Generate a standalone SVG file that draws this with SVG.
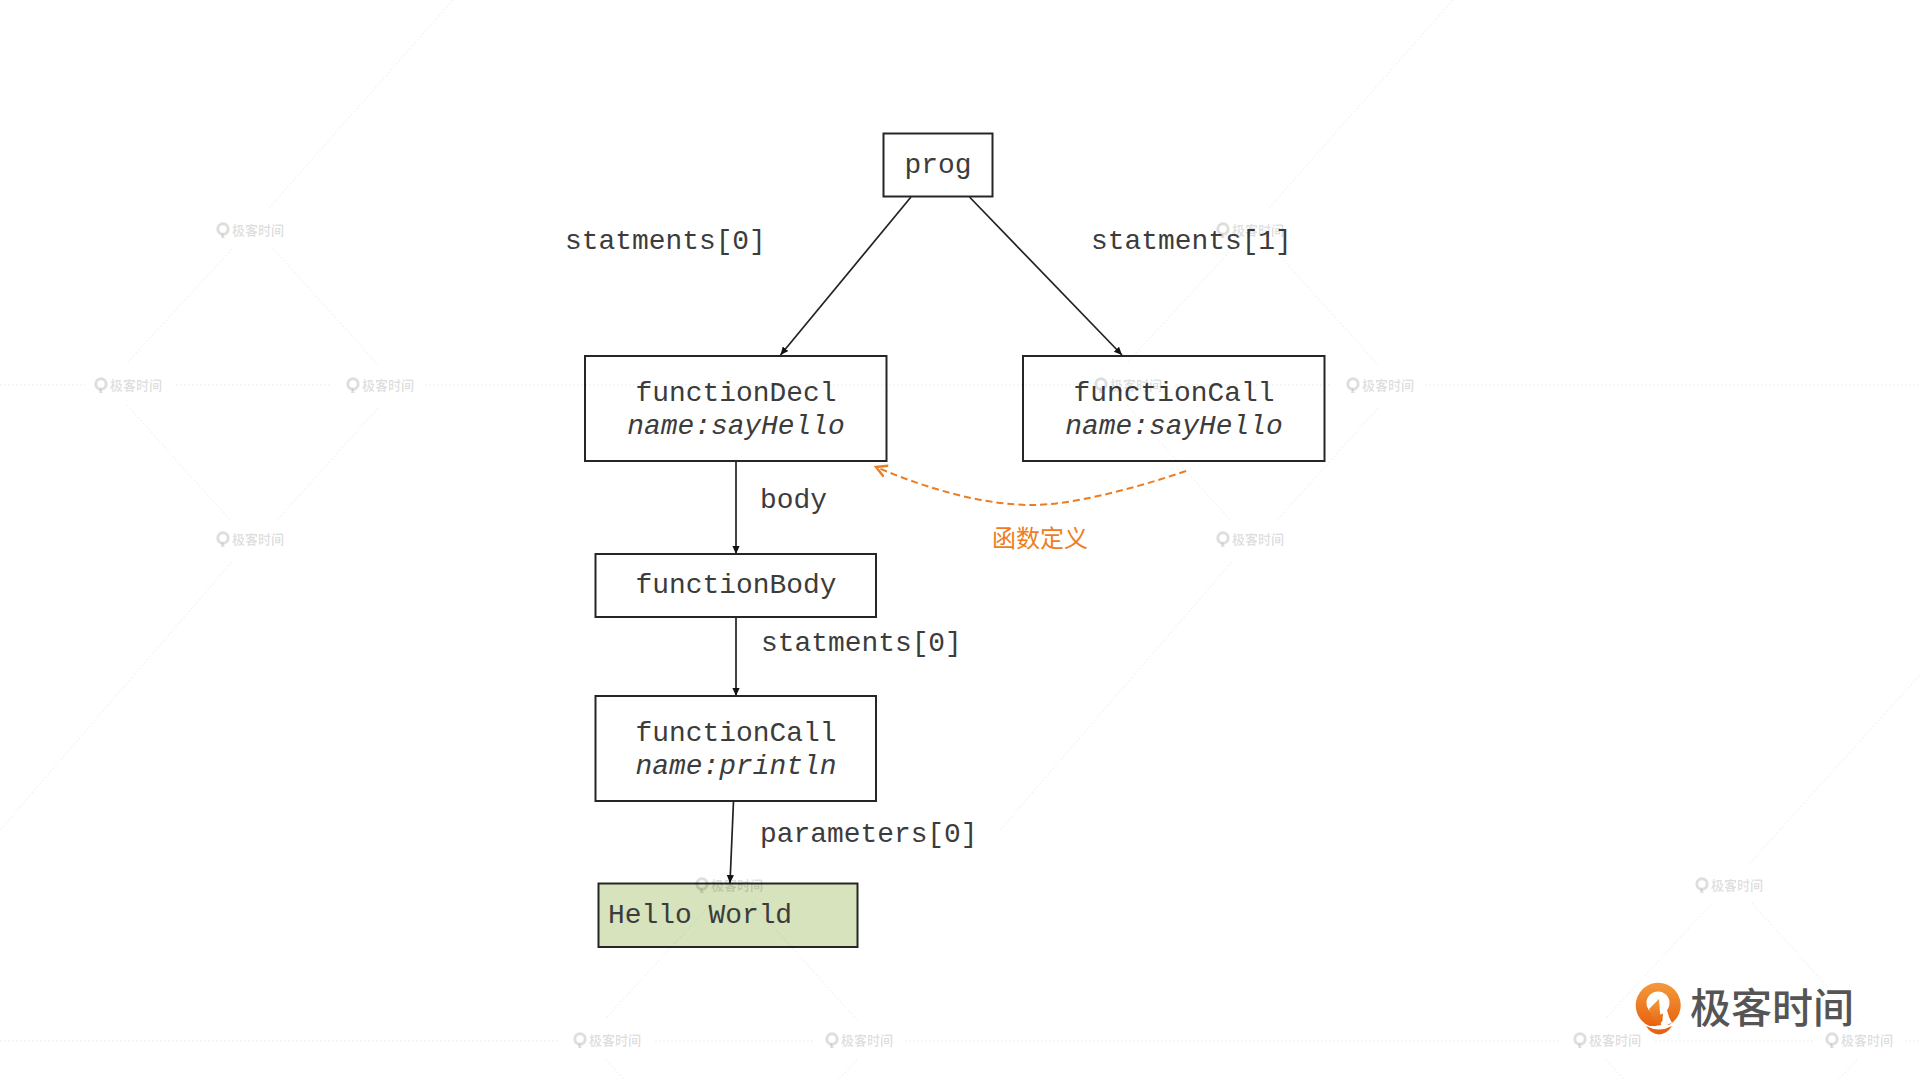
<svg xmlns="http://www.w3.org/2000/svg" xmlns:xlink="http://www.w3.org/1999/xlink" width="1920" height="1080" viewBox="0 0 1920 1080">
<style>
.box{fill:#fff;stroke:#262626;stroke-width:2}
.t{font-family:"Liberation Mono",monospace;font-size:27.9px;fill:#3c3c3c;}
.c{text-anchor:middle}
.i{font-style:italic}
.con{fill:none;stroke:#222;stroke-width:1.7}
.wl{fill:none;stroke:#000;stroke-opacity:.07;stroke-width:1;stroke-dasharray:2 2}
.wt{font-family:"Noto Sans CJK SC",sans-serif;font-size:13px;font-weight:700;fill:#000;fill-opacity:.13}
</style>
<defs>
<marker id="ah" markerUnits="userSpaceOnUse" markerWidth="10" markerHeight="10" refX="8" refY="4" orient="auto"><path d="M0 0.4L8 4L0 7.6z" fill="#111"/></marker>
<marker id="oh" markerUnits="userSpaceOnUse" markerWidth="14" markerHeight="14" refX="11" refY="6.500" orient="auto"><path d="M0 0.5L11 6.500L0 12.500" fill="none" stroke="#ed7d22" stroke-width="2.400"/></marker>
<linearGradient id="lg" x1="0" y1="0" x2="0" y2="1"><stop offset="0" stop-color="#f39a3c"/><stop offset="1" stop-color="#e8620f"/></linearGradient>
<g id="wm">
<circle cx="-27" cy="-1" r="5.200" fill="none" stroke="#000" stroke-opacity=".13" stroke-width="3"/>
<path d="M-28 3L-25 8L-29 8z" fill="#000" fill-opacity=".13"/>
<text class="wt" x="-18" y="5">极客时间</text>
</g>
</defs>
<rect width="1920" height="1080" fill="#fff"/>
<g id="connectors">
<path class="con" d="M911 197L780.500 355" marker-end="url(#ah)"/>
<path class="con" d="M969.500 197L1122 355" marker-end="url(#ah)"/>
<path class="con" d="M736 461V554" marker-end="url(#ah)"/>
<path class="con" d="M736 617V696" marker-end="url(#ah)"/>
<path class="con" d="M733.500 801L730 883" marker-end="url(#ah)"/>
<path d="M1186 471C1130 490 1070 505 1032 505C985 505 930 490 876 467" fill="none" stroke="#ed7d22" stroke-width="2" stroke-dasharray="7 4" marker-end="url(#oh)"/>
</g>
<g id="prog"><rect class="box" x="883.500" y="133.500" width="109" height="63"/><text class="t c" x="938" y="173">prog</text></g>
<g id="functionDecl"><rect class="box" x="585" y="356" width="301.500" height="105"/><text class="t c" x="736" y="401">functionDecl</text><text class="t c i" x="736" y="434">name:sayHello</text></g>
<g id="functionCall1"><rect class="box" x="1023" y="356" width="301.500" height="105"/><text class="t c" x="1174" y="401">functionCall</text><text class="t c i" x="1174" y="434">name:sayHello</text></g>
<g id="functionBody"><rect class="box" x="595.500" y="554" width="280.500" height="63"/><text class="t c" x="736" y="593">functionBody</text></g>
<g id="functionCall2"><rect class="box" x="595.500" y="696" width="280.500" height="105"/><text class="t c" x="736" y="741">functionCall</text><text class="t c i" x="736" y="774">name:println</text></g>
<g id="helloWorld"><rect class="box" x="598.500" y="883.500" width="259" height="63.500" style="fill:#d7e3bc"/><text class="t" x="608" y="923">Hello World</text></g>
<g id="labels">
<text class="t" x="565" y="249">statments[0]</text>
<text class="t" x="1091" y="249">statments[1]</text>
<text class="t" x="760" y="508">body</text>
<text class="t" x="761" y="651">statments[0]</text>
<text class="t" x="760" y="842">parameters[0]</text>
<text x="992" y="547" font-family="'Noto Sans CJK SC',sans-serif" font-size="24" fill="#ed7d22">函数定义</text>
</g>
<g id="logo">
<path d="M1649.500 1026A22.500 22.500 0 1 1 1669 1025L1663 1021L1655 1026z" fill="url(#lg)"/>
<circle cx="1658" cy="1003" r="11.500" fill="#fff"/>
<path d="M1659 999L1661 1025L1655 1026L1649 1009z" fill="url(#lg)"/>
<path d="M1664 1000L1669 1017L1672 1023L1662 1026z" fill="#fff"/>
<path d="M1646 1026Q1659 1033 1672 1026Q1667 1034 1659 1034.500Q1651 1034 1646 1026z" fill="#e8620f"/>
<text x="1690" y="1023" font-family="'Noto Sans CJK SC',sans-serif" font-size="41" font-weight="500" fill="#555">极客时间</text>
</g>
<g id="watermark">
<path class="wl" d="M0 385H85M176 385H332M425 385H1080M1176 385H1332M1425 385H1920M0 1041H560M655 1041H815M905 1041H1560M1655 1041H1815M1905 1041H1920"/>
<path class="wl" d="M453 0L269 208M232 249L127 363M273 248L378 365M127 405L230 520M378 408L277 520M232 562L0 830M1453 0L1269 208M1232 249L1127 363M1273 248L1378 365M1127 405L1230 520M1378 408L1277 520M1232 562L1000 830M711 904L606 1018M752 903L857 1020M606 1060L625 1080M857 1060L838 1080M1920 675L1748 865M1711 904L1606 1018M1752 903L1857 1020M1606 1060L1625 1080M1857 1060L1838 1080"/>
<use xlink:href="#wm" href="#wm" x="250" y="230"/><use xlink:href="#wm" href="#wm" x="128" y="385"/><use xlink:href="#wm" href="#wm" x="380" y="385"/><use xlink:href="#wm" href="#wm" x="250" y="539"/>
<use xlink:href="#wm" href="#wm" x="1250" y="230"/><use xlink:href="#wm" href="#wm" x="1128" y="385"/><use xlink:href="#wm" href="#wm" x="1380" y="385"/><use xlink:href="#wm" href="#wm" x="1250" y="539"/>
<use xlink:href="#wm" href="#wm" x="729" y="885"/><use xlink:href="#wm" href="#wm" x="607" y="1040"/><use xlink:href="#wm" href="#wm" x="859" y="1040"/>
<use xlink:href="#wm" href="#wm" x="1729" y="885"/><use xlink:href="#wm" href="#wm" x="1607" y="1040"/><use xlink:href="#wm" href="#wm" x="1859" y="1040"/>
</g>
</svg>
